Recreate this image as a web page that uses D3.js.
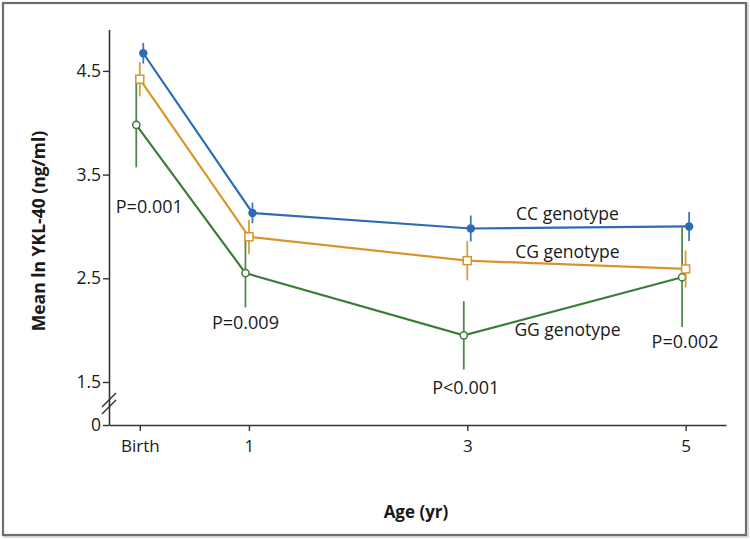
<!DOCTYPE html>
<html><head><meta charset="utf-8">
<script src="https://cdn.jsdelivr.net/npm/d3@7/dist/d3.min.js"></script>
<style>body{margin:0;background:#fff}svg{display:block}text{font-family:"Open Sans",sans-serif;fill:#1a1a1a}</style>
</head><body><svg id="c" width="750" height="539"></svg>
<script>
// ---- data ----
const ages = [0, 1, 3, 5];
const ageLabels = ["Birth", "1", "3", "5"];
const yTicks = [0, 1.5, 2.5, 3.5, 4.5];
const yTickLabels = ["0", "1.5", "2.5", "3.5", "4.5"];
const genotypes = ["CC genotype", "CG genotype", "GG genotype"];
const ccMean = [4.67, 3.13, 2.98, 3.00];
const ccErr  = [0.10, 0.10, 0.125, 0.14];
const cgMean = [4.42, 2.90, 2.67, 2.59];
const cgErr  = [0.165, 0.165, 0.19, 0.18];
const ggMean = [3.98, 2.55, 1.95, 2.51];
const ggErr  = [0.41, 0.33, 0.33, 0.48];
const pLabels = ["P=0.001", "P=0.009", "P<0.001", "P=0.002"];
const xTitle = "Age (yr)";
const yTitle = "Mean ln YKL-40 (ng/ml)";

const svg = d3.select("#c");
// frame
svg.append("rect").attr("x",4).attr("y",4).attr("width",744).attr("height",533).attr("fill","none").attr("stroke","#d0d0d0").attr("stroke-width",1.5);
svg.append("rect").attr("x",3).attr("y",3).attr("width",743).attr("height",532).attr("fill","#fff").attr("stroke","#6e6e6e").attr("stroke-width",2.2);

const x = d3.scaleLinear().domain([-0.282, 5.37]).range([109, 726]);
const y = d3.scaleLinear().domain([0, 1.5, 4.9]).range([425, 382, 29.4]);

// y axis
const ya = svg.append("g").attr("transform","translate(109,0)")
  .call(d3.axisLeft(y).tickValues(yTicks).tickFormat((d,i)=>yTickLabels[i]).tickSize(6).tickSizeOuter(0));
ya.select(".domain").attr("stroke","#333").attr("stroke-width",1.6);
ya.selectAll(".tick line").attr("stroke","#333").attr("stroke-width",1.4);
ya.selectAll(".tick text").attr("font-size",17.5).attr("font-family","'Open Sans',sans-serif").attr("fill","#1a1a1a").attr("x",-8);
// x axis
const xa = svg.append("g").attr("transform","translate(0,425)")
  .call(d3.axisBottom(x).tickValues(ages).tickFormat((d,i)=>ageLabels[i]).tickSize(6).tickSizeOuter(0));
xa.select(".domain").attr("stroke","#333").attr("stroke-width",1.6);
xa.selectAll(".tick line").attr("stroke","#333").attr("stroke-width",1.4);
xa.selectAll(".tick text").attr("font-size",17).attr("font-family","'Open Sans',sans-serif").attr("fill","#1a1a1a").attr("dy","1.05em");
// axis break slashes
const yb = (y(1.5)+y(0))/2;
[-3.5, 3.5].forEach(o=>{
  svg.append("line").attr("x1",102).attr("y1",yb+o+7).attr("x2",116).attr("y2",yb+o-7).attr("stroke","#333").attr("stroke-width",1.4);
});
// titles
svg.append("text").attr("x",416).attr("y",518).attr("text-anchor","middle").attr("font-weight","bold").attr("font-size",17).text(xTitle);
svg.append("text").attr("transform","translate(45,231) rotate(-90)").attr("text-anchor","middle").attr("font-weight","bold").attr("font-size",17.5).text(yTitle);

const series = [
  {name: genotypes[0], mean: ccMean, err: ccErr, color:"#2d6bb5", dx: 3.5, marker:"dot"},
  {name: genotypes[1], mean: cgMean, err: cgErr, color:"#d8942a", dx: 0, marker:"square"},
  {name: genotypes[2], mean: ggMean, err: ggErr, color:"#3c7d38", dx: -3.5, marker:"circle"}
];
const line = d3.line();
// draw back to front: GG, CG, CC
series.slice().reverse().forEach(s=>{
  const pts = ages.map((a,i)=>[x(a)+s.dx, y(s.mean[i])]);
  const g = svg.append("g");
  g.selectAll("line.eb").data(ages).join("line")
    .attr("x1",(a)=>x(a)+s.dx).attr("x2",(a)=>x(a)+s.dx)
    .attr("y1",(a,i)=>y(s.mean[i]-s.err[i])).attr("y2",(a,i)=>y(s.mean[i]+s.err[i]))
    .attr("stroke",s.color).attr("stroke-width",1.8).attr("opacity",0.9);
  g.append("path").attr("d",line(pts)).attr("fill","none").attr("stroke",s.color).attr("stroke-width",2.2);
  pts.forEach(p=>{
    if(s.marker==="dot") g.append("circle").attr("cx",p[0]).attr("cy",p[1]).attr("r",4.2).attr("fill",s.color);
    else if(s.marker==="square") g.append("rect").attr("x",p[0]-4).attr("y",p[1]-4).attr("width",8).attr("height",8).attr("fill","#fff").attr("stroke",s.color).attr("stroke-width",1.5);
    else g.append("circle").attr("cx",p[0]).attr("cy",p[1]).attr("r",3.6).attr("fill","#fff").attr("stroke",s.color).attr("stroke-width",1.5);
  });
});
// genotype labels between age 3 and 5
const labOff = [-7, -7, 30];
series.forEach((s,k)=>{
  const xm = (x(3)+x(5))/2 - 9;
  const ym = (y(s.mean[2])+y(s.mean[3]))/2;
  svg.append("text").attr("x",xm).attr("y",ym+labOff[k]).attr("text-anchor","middle").attr("font-size",17.5).text(s.name);
});
// P-value labels below the GG error bars
const pdx = [13, 0, 2, 3];
const pdy = [46, 22, 24, 21];
ages.forEach((a,i)=>{
  svg.append("text").attr("x",x(a)+series[2].dx+pdx[i]).attr("y",y(ggMean[i]-ggErr[i])+pdy[i])
    .attr("text-anchor","middle").attr("font-size",18).text(pLabels[i]);
});
</script></body></html>
